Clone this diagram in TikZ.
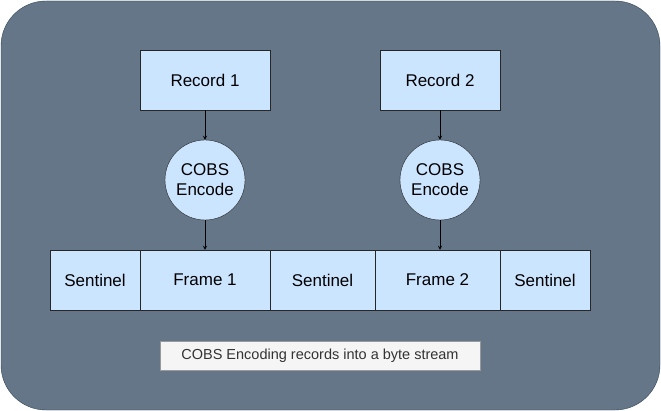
\documentclass[tikz,border=0pt]{standalone}
\usepackage{fontspec}
\setmainfont{Liberation Sans}
\definecolor{bg}{HTML}{647687}
\definecolor{bgd}{HTML}{314354}
\definecolor{lb}{HTML}{CCE5FF}
\tikzset{
 box/.style={draw=black!85, fill=lb, minimum height=60pt, inner sep=0pt, font=\fontsize{17}{20}\selectfont},
 circ/.style={circle, draw=black!85, fill=lb, minimum size=80pt, inner sep=0pt, align=center, font=\fontsize{17}{20}\selectfont},
 arr/.style={-stealth, black, thick}
}
\begin{document}
\begin{tikzpicture}[x=1pt,y=-1pt]
\useasboundingbox (0,0) rectangle (661,411);
\draw[fill=bg, draw=bgd, rounded corners=45pt] (1,1) rectangle (660,410);
\node[box, minimum width=130pt] (r1) at (205,80) {Record 1};
\node[box, minimum width=120pt] (r2) at (440,80) {Record 2};
\node[circ] (c1) at (205,180) {COBS\\Encode};
\node[circ] (c2) at (440,180) {COBS\\Encode};
\node[box, minimum width=90pt] (s1) at (95,280) {Sentinel};
\node[box, minimum width=130pt] (f1) at (205,280) {Frame 1};
\node[box, minimum width=105pt] (s2) at (322.5,280) {Sentinel};
\node[box, minimum width=125pt] (f2) at (437.5,280) {Frame 2};
\node[box, minimum width=90pt] (s3) at (545,280) {Sentinel};
\node[draw=black!40, fill=black!4, minimum width=320pt, minimum height=29pt, font=\fontsize{14.5}{16}\selectfont, text=black!80] (cap) at (320,355.5) {COBS Encoding records into a byte stream};
\draw[arr] (r1) -- (c1);
\draw[arr] (r2) -- (c2);
\draw[arr] (c1) -- (f1);
\draw[arr] (c2) -- (c2 |- f2.north);
\end{tikzpicture}
\end{document}
